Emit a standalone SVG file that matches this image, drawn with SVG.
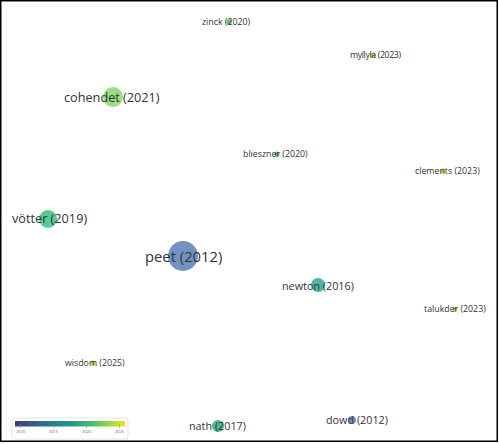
<svg xmlns="http://www.w3.org/2000/svg" width="499" height="444" viewBox="0 0 499 444">
<defs>
<linearGradient id="vir" x1="0" y1="0" x2="1" y2="0">
<stop offset="0" stop-color="#3e3c82"/>
<stop offset="0.25" stop-color="#2f6c8e"/>
<stop offset="0.5" stop-color="#21968b"/>
<stop offset="0.72" stop-color="#4cc26c"/>
<stop offset="0.9" stop-color="#b5dc36"/>
<stop offset="1" stop-color="#f5e61e"/>
</linearGradient>
</defs>
<style>
text{font-family:"Open Sans","Noto Sans","Liberation Sans",sans-serif;fill:#333}
.s{font-size:8.8px}
.m{font-size:10.8px}
.l{font-size:12.7px}
.xl{font-size:14.8px}
.t{font-size:4px;fill:#666}
circle{fill-opacity:0.85}
</style>
<rect x="0.75" y="0.75" width="496.5" height="440.5" fill="#fff" stroke="#000" stroke-width="1.5"/>
<g id="connectors"></g>
<g id="peet"><circle cx="183" cy="256" r="15" fill="#5a7fb6"/><text class="xl" x="145" y="262">peet (2012)</text></g>
<g id="cohendet"><circle cx="113" cy="97" r="10" fill="#86d96e"/><text class="l" x="64" y="102">cohendet (2021)</text></g>
<g id="votter"><circle cx="48" cy="219" r="9" fill="#3cc17f"/><text class="l" x="12" y="223">vötter (2019)</text></g>
<g id="newton"><circle cx="318" cy="285" r="7" fill="#2aa89c"/><text class="m" x="282" y="290">newton (2016)</text></g>
<g id="nath"><circle cx="218" cy="426" r="6" fill="#28b07f"/><text class="m" x="189" y="430">nath (2017)</text></g>
<g id="dowd"><circle cx="352" cy="420" r="4" fill="#5a7fb6"/><text class="m" x="326" y="424">dowd (2012)</text></g>
<g id="zinck"><circle cx="229" cy="22" r="2.8" fill="#47c15a"/><text class="s" x="202" y="25">zinck (2020)</text></g>
<g id="myllyla"><circle cx="373" cy="55" r="2.5" fill="#a7d41c"/><text class="s" x="350" y="58" textLength="51">myllyla (2023)</text></g>
<g id="blieszner"><circle cx="277" cy="154" r="2.5" fill="#2bb04a"/><text class="s" x="243" y="157">blieszner (2020)</text></g>
<g id="clements"><circle cx="443" cy="171" r="2.5" fill="#a7d41c"/><text class="s" x="415" y="174">clements (2023)</text></g>
<g id="talukder"><circle cx="455" cy="309" r="2.5" fill="#a7d41c"/><text class="s" x="424" y="312">talukder (2023)</text></g>
<g id="wisdom"><circle cx="93" cy="363" r="2.5" fill="#d6c400"/><text class="s" x="65" y="366">wisdom (2025)</text></g>
<g id="legend">
<rect x="12" y="418" width="116" height="21" rx="3" fill="#fff" stroke="#ddd" stroke-width="0.8"/>
<rect x="15" y="421" width="110" height="5.5" fill="url(#vir)"/>
<g stroke="#888" stroke-width="0.5"><line x1="20.5" y1="424" x2="20.5" y2="428"/><line x1="53.5" y1="424" x2="53.5" y2="428"/><line x1="86.5" y1="424" x2="86.5" y2="428"/><line x1="119.5" y1="424" x2="119.5" y2="428"/></g>
<text class="t" x="16" y="433">2010</text><text class="t" x="49" y="433">2015</text><text class="t" x="82" y="433">2020</text><text class="t" x="115" y="433">2025</text>
</g>
</svg>
